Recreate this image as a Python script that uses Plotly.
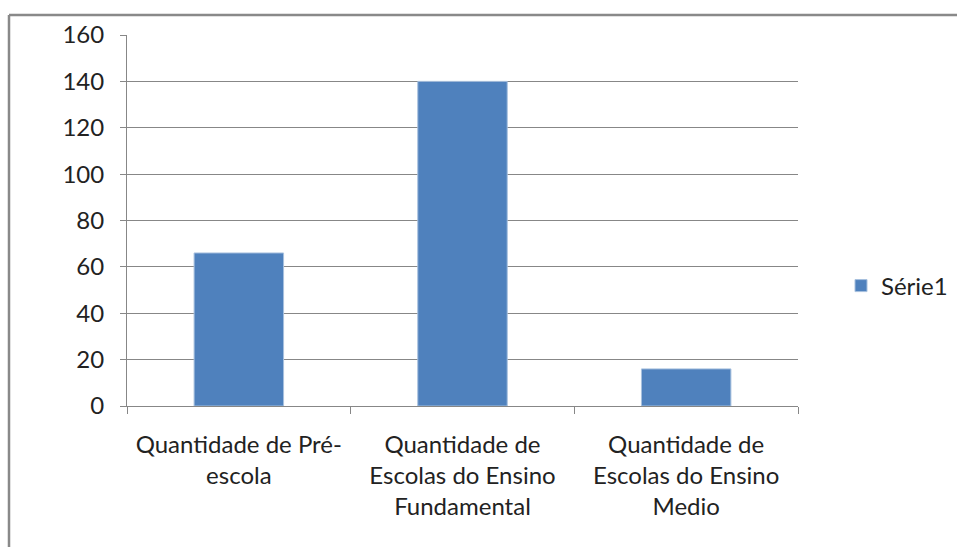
import plotly.graph_objects as go

categories = [
    "Quantidade de Pré-<br>escola",
    "Quantidade de<br>Escolas do Ensino<br>Fundamental",
    "Quantidade de<br>Escolas do Ensino<br>Medio",
]
values = [66, 140, 16]
series_name = "Série1"
y_ticks = [0, 20, 40, 60, 80, 100, 120, 140, 160]

W, H = 957, 547
PL, PR, PT, PB = 127, 798, 35, 406          # plot area in page pixels
L, T = PL, PT
pw, ph = PR - PL, PB - PT
R, B = W - L - pw, H - T - ph

def px(xp):
    return (xp - PL) / pw

def py(yp):
    return (PB - yp) / ph

FONT = "Lato, 'Open Sans', sans-serif"
GRID = "#878787"
TXT = "#222222"

fig = go.Figure()
fig.add_trace(go.Bar(
    x=categories, y=values, name=series_name,
    marker=dict(color="#4F81BD", line=dict(color="#A7C0DE", width=1)),
    showlegend=True,
))

fig.update_layout(
    width=W, height=H, autosize=False,
    margin=dict(l=L, r=R, t=T, b=B, pad=0),
    paper_bgcolor="white", plot_bgcolor="white",
    font=dict(family=FONT, size=24, color=TXT),
    bargap=0.6,
    showlegend=True,
    legend=dict(xref="container", yref="container",
                x=841 / W, xanchor="left",
                y=(H - 286) / H, yanchor="middle",
                font=dict(family=FONT, size=24, color=TXT),
                bgcolor="rgba(0,0,0,0)", itemwidth=30),
    xaxis=dict(
        type="category", showgrid=False, showline=True, linecolor=GRID, linewidth=1,
        ticks="outside", tickson="boundaries", ticklen=7, tickcolor=GRID,
        ticklabelstandoff=17,
        tickfont=dict(family=FONT, size=24, color=TXT),
    ),
    yaxis=dict(
        range=[0, 160], tickvals=y_ticks, showgrid=True, gridcolor=GRID, gridwidth=1,
        showline=True, linecolor=GRID, linewidth=1, zeroline=False,
        ticks="outside", ticklen=6, tickcolor=GRID, ticklabelstandoff=11,
        tickfont=dict(family=FONT, size=24, color=TXT),
    ),
    shapes=[
        dict(type="line", xref="paper", yref="paper",
             x0=px(9), x1=px(1100), y0=py(15), y1=py(15),
             line=dict(color="#898989", width=2.5)),
        dict(type="line", xref="paper", yref="paper",
             x0=px(9), x1=px(9), y0=py(15), y1=py(700),
             line=dict(color="#898989", width=2.5)),
    ],
)

fig.write_html(
    "out.html",
    config={"displayModeBar": False},
    post_script="document.body.style.margin='0';document.body.style.overflow='hidden';",
)
